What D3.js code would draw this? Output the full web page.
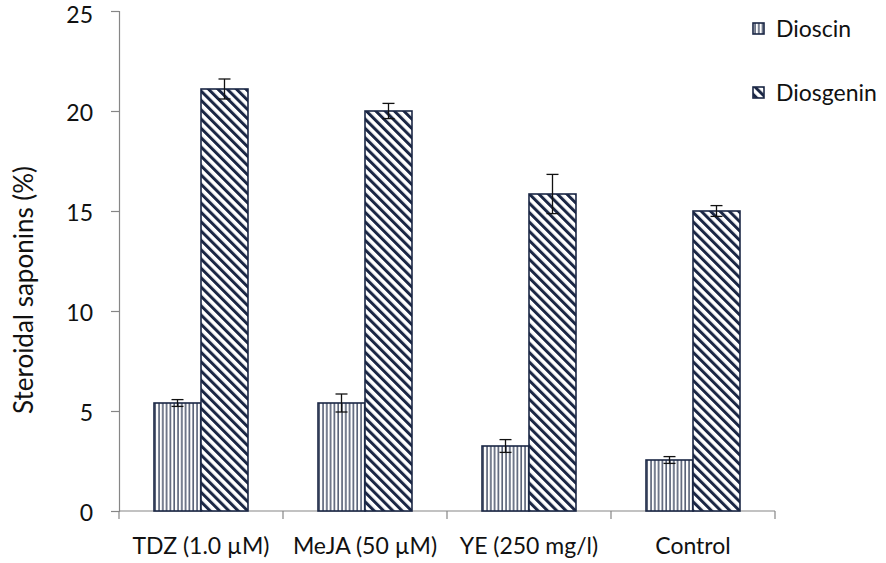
<!DOCTYPE html>
<html>
<head>
<meta charset="utf-8">
<script src="https://cdn.jsdelivr.net/npm/d3@7"></script>
<style>
  body { margin: 0; background: #fff; }
  text { font-family: Lato, "Open Sans", sans-serif; fill: #111; }
</style>
</head>
<body>
<svg id="chart" width="886" height="563"></svg>
<script>
// data
var categories = ["TDZ (1.0 µM)", "MeJA (50 µM)", "YE (250 mg/l)", "Control"];
var seriesNames = ["Dioscin", "Diosgenin"];
var dioscin = [5.4, 5.4, 3.25, 2.55];
var dioscinErr = [0.17, 0.45, 0.32, 0.17];
var diosgenin = [21.1, 20.0, 15.85, 15.0];
var diosgeninErr = [0.5, 0.38, 0.98, 0.27];
var yTicks = [0, 5, 10, 15, 20, 25];

var svg = d3.select("#chart");
var margin = { top: 11, right: 111, bottom: 52, left: 119 },
    width = 886 - margin.left - margin.right,
    height = 563 - margin.top - margin.bottom;

var navy = "#1b2745";

// patterns
var defs = svg.append("defs");
var pv = defs.append("pattern")
    .attr("id", "vlines")
    .attr("patternUnits", "userSpaceOnUse")
    .attr("width", 3.8).attr("height", 10);
pv.append("rect").attr("width", 3.8).attr("height", 10).attr("fill", "#fff");
pv.append("rect").attr("x", 1.4).attr("width", 1.2).attr("height", 10).attr("fill", navy);

var pd = defs.append("pattern")
    .attr("id", "dlines")
    .attr("patternUnits", "userSpaceOnUse")
    .attr("width", 6.6).attr("height", 10)
    .attr("patternTransform", "rotate(-45)");
pd.append("rect").attr("width", 6.6).attr("height", 10).attr("fill", "#fff");
pd.append("rect").attr("width", 3).attr("height", 10).attr("fill", navy);

var fills = ["url(#vlines)", "url(#dlines)"];

var data = categories.map(function(c, i) {
    return {
        cat: c,
        values: [
            { key: seriesNames[0], value: dioscin[i], err: dioscinErr[i] },
            { key: seriesNames[1], value: diosgenin[i], err: diosgeninErr[i] }
        ]
    };
});

var x0 = d3.scaleBand().domain(categories).range([0, width]);
var x1 = d3.scaleBand().domain(seriesNames).range([0, x0.bandwidth()]).paddingOuter(0.745);
var y = d3.scaleLinear().domain([0, 25]).range([height, 0]);

var g = svg.append("g")
    .attr("transform", "translate(" + margin.left + "," + margin.top + ")");

// y axis
var yAxis = g.append("g")
    .call(d3.axisLeft(y).tickValues(yTicks).tickSize(8).tickPadding(18));
yAxis.select(".domain").attr("stroke", "#868686").attr("stroke-width", 1.2);
yAxis.selectAll(".tick line").attr("stroke", "#868686").attr("stroke-width", 1.2);
yAxis.selectAll(".tick text").style("font-size", "23px").attr("fill", "#111")
    .attr("dy", function(d) { return d === 25 ? "0.52em" : "0.4em"; });

// x axis (ticks on category boundaries)
var xAxis = g.append("g")
    .attr("transform", "translate(0," + height + ")");
xAxis.append("line")
    .attr("x1", 0).attr("x2", width)
    .attr("stroke", "#868686").attr("stroke-width", 1.2);
xAxis.selectAll("line.tk")
    .data(categories.concat(["end"]))
    .enter().append("line")
    .attr("class", "tk")
    .attr("x1", function(d, i) { return i * x0.step(); })
    .attr("x2", function(d, i) { return i * x0.step(); })
    .attr("y1", 0).attr("y2", 8)
    .attr("stroke", "#868686").attr("stroke-width", 1.2);
xAxis.selectAll("text")
    .data(categories)
    .enter().append("text")
    .attr("x", function(d) { return x0(d) + x0.bandwidth() / 2; })
    .attr("y", 43)
    .attr("text-anchor", "middle")
    .style("font-size", "23px")
    .text(function(d) { return d; });

// y title
g.append("text")
    .attr("transform", "rotate(-90)")
    .attr("x", -279)
    .attr("y", -86)
    .attr("text-anchor", "middle")
    .style("font-size", "26px")
    .text("Steroidal saponins (%)");

// bars
var groups = g.selectAll("g.grp")
    .data(data)
    .enter().append("g")
    .attr("class", "grp")
    .attr("transform", function(d) { return "translate(" + x0(d.cat) + ",0)"; });

groups.selectAll("rect")
    .data(function(d) { return d.values; })
    .enter().append("rect")
    .attr("x", function(d) { return x1(d.key); })
    .attr("y", function(d) { return y(d.value); })
    .attr("width", x1.bandwidth())
    .attr("height", function(d) { return height - y(d.value); })
    .attr("fill", function(d, i) { return fills[i]; })
    .attr("stroke", navy)
    .attr("stroke-width", 1.6);

// error bars
var eb = groups.selectAll("g.err")
    .data(function(d) { return d.values; })
    .enter().append("g")
    .attr("class", "err")
    .attr("stroke", "#111")
    .attr("stroke-width", 1.3);
eb.append("line")
    .attr("x1", function(d) { return x1(d.key) + x1.bandwidth() / 2; })
    .attr("x2", function(d) { return x1(d.key) + x1.bandwidth() / 2; })
    .attr("y1", function(d) { return y(d.value + d.err); })
    .attr("y2", function(d) { return y(d.value - d.err); });
eb.selectAll("line.cap")
    .data(function(d) { return [d.value + d.err, d.value - d.err].map(function(v) { return { key: d.key, v: v }; }); })
    .enter().append("line")
    .attr("class", "cap")
    .attr("x1", function(d) { return x1(d.key) + x1.bandwidth() / 2 - 6; })
    .attr("x2", function(d) { return x1(d.key) + x1.bandwidth() / 2 + 6; })
    .attr("y1", function(d) { return y(d.v); })
    .attr("y2", function(d) { return y(d.v); });

// legend
var legend = svg.append("g").attr("transform", "translate(753,23)");
var li = legend.selectAll("g")
    .data(seriesNames)
    .enter().append("g")
    .attr("transform", function(d, i) { return "translate(0," + (i * 64) + ")"; });
li.append("rect")
    .attr("width", 11).attr("height", 11)
    .attr("fill", function(d, i) { return fills[i]; })
    .attr("stroke", navy)
    .attr("stroke-width", 1.6);
li.append("text")
    .attr("x", 23)
    .attr("y", 14)
    .style("font-size", "23px")
    .text(function(d) { return d; });
</script>
</body>
</html>
